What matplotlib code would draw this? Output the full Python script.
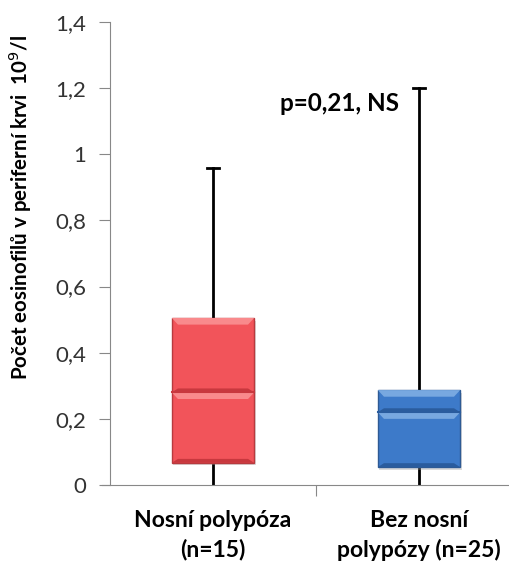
import matplotlib.pyplot as plt
from matplotlib.patches import Polygon, Rectangle

groups = ["Nosní polypóza\n(n=15)", "Bez nosní\npolypózy (n=25)"]
whislo = [0.0, 0.0]
q1 = [0.067, 0.054]
med = [0.28, 0.22]
q3 = [0.505, 0.287]
whishi = [0.96, 1.2]

face = ["#F2545A", "#3D7AC9"]
light = ["#F98A8C", "#78A8E0"]
dark = ["#C8383E", "#2A5C9E"]
edge = ["#B83A3E", "#2E5A94"]

plt.rcParams["font.family"] = ["Lato", "DejaVu Sans"]

fig = plt.figure(figsize=(5.09, 5.63), dpi=100)
ax = fig.add_axes([110 / 509, 78 / 563, 399 / 509, 463 / 563])

pos = [1, 2]
stats = []
for i in range(2):
    stats.append(dict(whislo=whislo[i], q1=q1[i], med=med[i], q3=q3[i],
                      whishi=whishi[i], fliers=[]))

width = 0.4
parts = ax.bxp(stats, positions=pos, widths=width, showfliers=False, patch_artist=True,
               boxprops=dict(facecolor="none", edgecolor="none"),
               medianprops=dict(color="none"),
               whiskerprops=dict(color="black", linewidth=2.0),
               capprops=dict(color="black", linewidth=2.0), capwidths=0.06)
# lower caps sit on the axis line, hide them
for cap in parts["caps"][::2]:
    cap.set_visible(False)

dx = 0.03
dy = 0.02
for i, x in enumerate(pos):
    x0, x1 = x - width / 2, x + width / 2
    # soft shadow
    ax.add_patch(Rectangle((x0 + 0.008, q1[i] - 0.008), width, q3[i] - q1[i],
                           facecolor="#999999", alpha=0.35, edgecolor="none", zorder=3))
    for lo, hi in [(q1[i], med[i]), (med[i], q3[i])]:
        ax.add_patch(Rectangle((x0, lo), width, hi - lo, facecolor=face[i],
                               edgecolor=edge[i], linewidth=1.0, zorder=4))
        ax.add_patch(Polygon([(x0, hi), (x1, hi), (x1 - dx, hi - dy), (x0 + dx, hi - dy)],
                             closed=True, facecolor=light[i], edgecolor="none", zorder=5))
        ax.add_patch(Polygon([(x0, lo), (x1, lo), (x1 - dx, lo + dy * 0.6), (x0 + dx, lo + dy * 0.6)],
                             closed=True, facecolor=dark[i], edgecolor="none", zorder=5))
    ax.plot([x0, x1], [med[i], med[i]], color=dark[i], linewidth=1.5, zorder=6)

ax.set_ylim(0, 1.4)
ax.set_xlim(0.5, 2.437)
ax.set_yticks([0, 0.2, 0.4, 0.6, 0.8, 1.0, 1.2, 1.4])
ax.set_yticklabels(["0", "0,2", "0,4", "0,6", "0,8", "1", "1,2", "1,4"], fontsize=16, color="#333333")
ax.set_xticks([1.5])
ax.set_xticklabels([""])
ax.tick_params(axis="y", direction="out", length=8, color="#888888", pad=9)
ax.tick_params(axis="x", direction="out", length=8, color="#888888")

for i, x in enumerate(pos):
    ax.text(x, -0.075, groups[i], ha="center", va="top", fontsize=16.5,
            fontweight="bold", linespacing=1.45)

ax.spines["top"].set_visible(False)
ax.spines["right"].set_visible(False)
ax.spines["left"].set_color("#888888")
ax.spines["bottom"].set_color("#888888")
ax.spines["bottom"].set_bounds(0.46, 2.437)

ax.text(1.905, 1.155, "p=0,21, NS", ha="right", va="center", fontsize=17.5, fontweight="bold")

fig.text(20 / 509, 1 - 207 / 563, "Počet eosinofilů v periferní krvi  10$^{9}$/l",
         rotation=90, ha="center", va="center", fontsize=14.8, fontweight="bold")

fig.savefig("out.png", dpi=100)
